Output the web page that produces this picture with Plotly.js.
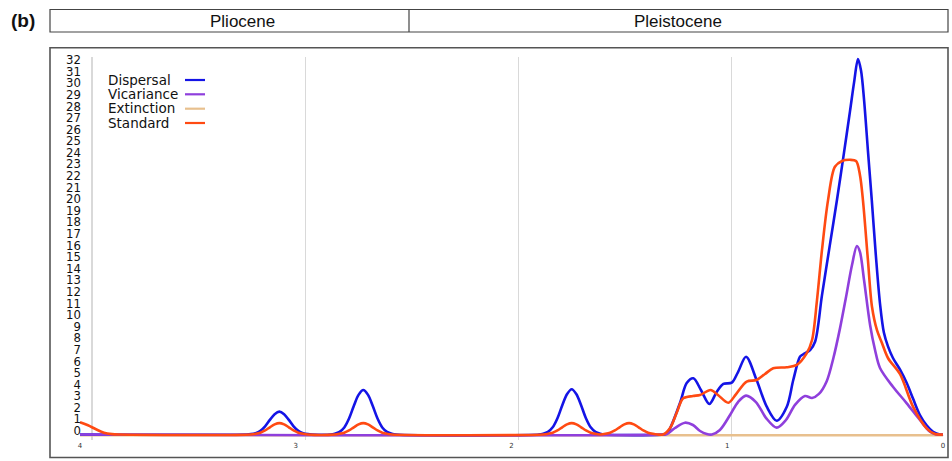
<!DOCTYPE html>
<html>
<head>
<meta charset="utf-8">
<script src="https://cdn.plot.ly/plotly-3.0.1.min.js"></script>
<style>html,body{margin:0;padding:0;background:#fff;}#chart{width:952px;height:461px;}</style>
</head>
<body>
<div id="chart"></div>
<script>
// ---- data (time in Ma, values = number of events) ----
const seriesNames = ["Dispersal", "Vicariance", "Extinction", "Standard"];
const xTickVals = [4, 3, 2, 1, 0];
const xTickText = ["4", "3", "2", "1", "0"];
const yTickVals = [0,1,2,3,4,5,6,7,8,9,10,11,12,13,14,15,16,17,18,19,20,21,22,23,24,25,26,27,28,29,30,31,32];

const dispersalX = [4.000, 3.228,
  3.208,3.186,3.164,3.142,3.120,3.098,3.076,3.054,3.032,3.010,2.988,2.966,2.944,
  2.924, 2.839,
  2.819,2.797,2.775,2.753,2.731,2.709,2.687,2.665,2.643,2.621,2.599,2.577,2.555,
  2.535, 1.873,
  1.853,1.831,1.809,1.787,1.765,1.743,1.721,1.699,1.677,1.655,1.633,1.611,1.589,
  1.569, 1.298,
  1.279,1.219,1.188,1.157,1.122,1.083,1.049,1.018,0.979,0.950,0.913,0.864,0.817,0.771,0.724,0.694,0.663,0.649,0.616,0.593,
  0.561,0.524,0.491,0.459,0.431,0.412,0.394,0.380,0.366,0.348,0.330,0.311,0.292,0.274,0.255,0.232,0.199,0.168,0.139,0.107,0.076,0.046,0.014,0.000];
const dispersalY = [0, 0,
  0.03,0.12,0.32,0.71,1.26,1.75,1.97,1.75,1.26,0.71,0.32,0.12,0.03,
  0, 0,
  0.07,0.23,0.61,1.38,2.46,3.42,3.84,3.42,2.46,1.38,0.61,0.23,0.07,
  0, 0,
  0.07,0.23,0.62,1.40,2.50,3.47,3.90,3.47,2.50,1.40,0.62,0.23,0.07,
  0, 0,
  0.10,2.72,4.44,4.85,3.84,2.63,3.67,4.36,4.47,5.39,6.71,4.70,2.40,1.19,2.40,4.70,6.71,6.90,7.29,8.00,
  12.0,16.4,20.3,24.3,27.9,30.4,32.4,31.4,28.9,24.5,20.2,15.4,11.3,8.8,7.6,6.6,5.6,4.44,3.1,1.68,0.8,0.24,0,0];

const vicarianceX = [4.000, 1.298, 1.279,1.242,1.196,1.159,1.126,1.095,1.071,1.034,0.987,0.950,0.913,0.867,0.820,0.771,0.728,0.686,0.640,0.607,0.575,0.539,0.508,
  0.477,0.450,0.422,0.399,0.385,0.366,0.338,0.315,0.292,0.232,0.168,0.107,0.060,0.032,0.000];
const vicarianceY = [0, 0, 0.04,0.56,1.02,0.82,0.30,0.04,0,0.39,1.68,2.80,3.35,2.80,1.42,0.59,1.25,2.55,3.32,3.15,3.50,4.60,6.60,
  9.2,11.8,14.6,16.26,15.75,13.33,9.45,7.29,5.74,4.12,2.69,1.25,0.24,0,0];

const extinctionX = [4.000, 0.000];
const extinctionY = [-0.06, -0.06];

const standardX = [4.000,3.963,3.926,3.889,3.852,3.815,
  3.208,3.186,3.164,3.142,3.120,3.098,3.076,3.054,3.032,3.010,2.988,2.966,2.944,
  2.819,2.797,2.775,2.753,2.731,2.709,2.687,2.665,2.643,2.621,2.599,2.577,2.555,
  1.853,1.831,1.809,1.787,1.765,1.743,1.721,1.699,1.677,1.655,1.633,1.611,1.589,
  1.587,1.565,1.543,1.521,1.499,1.477,1.455,1.433,1.411,1.389,1.367,1.345,1.323,
  1.298,1.265,1.233,1.204,1.159,1.126,1.077,1.043,0.995,0.959,0.910,0.864,0.825,0.787,0.724,0.678,0.632,0.607,0.584,0.561,0.533,0.501,0.468,0.431,0.403,
  0.385,0.371,0.348,0.329,0.306,0.283,0.255,0.199,0.139,0.076,0.037,0.000];
const standardY = [1.06,0.80,0.45,0.15,0.03,0,
  0,0.06,0.16,0.35,0.62,0.87,0.98,0.87,0.62,0.35,0.16,0.06,0,
  0,0.06,0.16,0.35,0.62,0.87,0.98,0.87,0.62,0.35,0.16,0.06,0,
  0,0.06,0.16,0.35,0.62,0.87,0.98,0.87,0.62,0.35,0.16,0.06,0,
  0,0.06,0.16,0.35,0.62,0.87,0.98,0.87,0.62,0.35,0.16,0.06,0,
  0,0.56,1.94,3.12,3.32,3.41,3.84,3.41,2.74,3.49,4.56,4.70,5.22,5.71,5.80,6.00,7.00,8.15,11.6,15.9,20.2,23.1,23.6,23.7,23.6,
  22.4,20.2,15.06,11.0,9.0,7.9,6.6,5.2,2.40,0.53,0.04,0];

const epochNames = ["Pliocene", "Pleistocene"];
const panelLabel = "(b)";

// ---- layout geometry (pixels) ----
const W = 952, H = 461;
const PL = 70, PR = 946, PT = 57, PB = 440;
const px = v => (v - PL) / (PR - PL);
const py = v => (PB - v) / (PB - PT);

const colors = { Dispersal: "#1414e6", Vicariance: "#8f3fdc", Extinction: "#e8c08e", Standard: "#ff4a12" };

function line(name, x, y, xa) {
  return { type: "scatter", mode: "lines", name: name, x: x, y: y, xaxis: xa || "x",
    line: { color: colors[name], width: name === "Extinction" ? 2.5 : 2.6, shape: "spline", smoothing: 0.9 },
    showlegend: false, hoverinfo: "skip" };
}

const traces = [
  { type: "scatter", mode: "lines", x: [], y: [], xaxis: "x2", showlegend: false, hoverinfo: "skip" },
  line("Extinction", extinctionX, extinctionY),
  line("Dispersal", dispersalX, dispersalY),
  line("Vicariance", vicarianceX, vicarianceY),
  line("Standard", standardX, standardY)
];

const shapes = [
  // header boxes
  { type: "rect", xref: "paper", yref: "paper", x0: px(50), x1: px(948), y0: py(32), y1: py(9.5), line: { color: "#444", width: 1.2 } },
  { type: "line", xref: "paper", yref: "paper", x0: px(409), x1: px(409), y0: py(32), y1: py(9.5), line: { color: "#444", width: 1.2 } },
  // outer frame of plot
  { type: "rect", xref: "paper", yref: "paper", x0: px(50), x1: px(948), y0: py(457.5), y1: py(47.7), line: { color: "#555", width: 1.6 } }
];
const annotations = [
  { xref: "paper", yref: "paper", x: px(22.5), y: py(20), text: "<b>" + panelLabel + "</b>", showarrow: false,
    font: { family: "Liberation Sans, Arial, sans-serif", size: 19, color: "#111" }, xanchor: "center", yanchor: "middle" },
  { xref: "paper", yref: "paper", x: px(242), y: py(21.5), text: epochNames[0], showarrow: false,
    font: { family: "Liberation Sans, Arial, sans-serif", size: 17, color: "#111" }, xanchor: "center", yanchor: "middle" },
  { xref: "paper", yref: "paper", x: px(678), y: py(21.5), text: epochNames[1], showarrow: false,
    font: { family: "Liberation Sans, Arial, sans-serif", size: 17, color: "#111" }, xanchor: "center", yanchor: "middle" }
];
// custom legend: text then line sample on the right
const legendY = [79.5, 93.8, 108.2, 122.5];
seriesNames.forEach((n, i) => {
  annotations.push({ xref: "paper", yref: "paper", x: px(106), y: py(legendY[i]), text: n, showarrow: false,
    font: { family: "DejaVu Sans, Verdana, sans-serif", size: 13.5, color: "#111" }, xanchor: "left", yanchor: "middle" });
  shapes.push({ type: "line", xref: "paper", yref: "paper", x0: px(185), x1: px(205), y0: py(legendY[i] + 0.5), y1: py(legendY[i] + 0.5),
    line: { color: colors[n], width: 2.2 } });
});

const layout = {
  width: W, height: H,
  margin: { l: PL, r: W - PR, t: PT, b: H - PB, pad: 0 },
  paper_bgcolor: "#fff", plot_bgcolor: "#fff",
  showlegend: false,
  xaxis: {
    range: [4 + (80 - PL) / 215.75, -(PR - 943) / 215.75],
    tickmode: "array", tickvals: xTickVals, ticktext: xTickText,
    showgrid: false, zeroline: false, showline: false, ticks: "",
    tickfont: { family: "DejaVu Sans, sans-serif", size: 7, color: "#333" }
  },
  xaxis2: {
    overlaying: "x", side: "bottom",
    range: [4 + (92 - PL) / 213.25, -(PR - 945) / 213.25],
    tickmode: "array", tickvals: xTickVals,
    showgrid: true, gridcolor: "#d9d9d9", gridwidth: 1.2, zeroline: false, showline: false, ticks: "", showticklabels: false
  },
  yaxis: {
    range: [-(PB - 434.5) / 11.59, (434.5 - PT) / 11.59],
    tickmode: "array", tickvals: yTickVals,
    anchor: "free", position: px(81),
    showgrid: false, zeroline: false, showline: false, ticks: "",
    ticklabelshift: -4,
    tickfont: { family: "Liberation Sans Narrow, DejaVu Sans Condensed, Arial Narrow, sans-serif", size: 13, color: "#111" }
  },
  shapes: shapes,
  annotations: annotations
};

Plotly.newPlot("chart", traces, layout, { staticPlot: true, displayModeBar: false });
</script>
</body>
</html>
